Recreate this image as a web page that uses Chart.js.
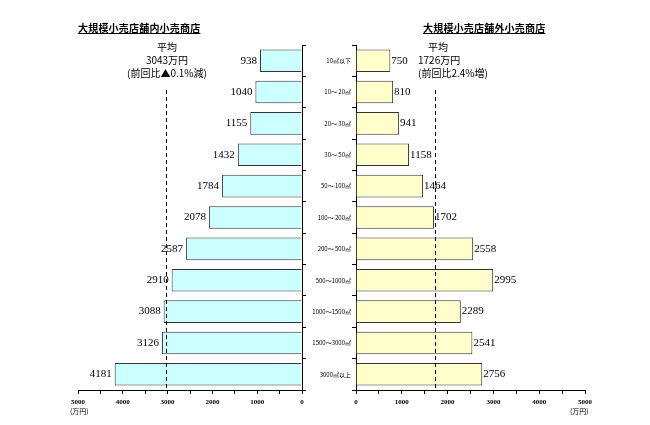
<!DOCTYPE html>
<html>
<head>
<meta charset="utf-8">
<script src="https://cdn.jsdelivr.net/npm/chart.js@4"></script>
<style>
body{margin:0;background:#fff;}
#wrap{position:relative;width:650px;height:425px;overflow:hidden;}
canvas{position:absolute;left:0;top:0;}
.t{position:absolute;font-family:"Noto Sans CJK JP",sans-serif;color:#000;white-space:nowrap;}
.ttl{font-size:10px;font-weight:bold;text-decoration:underline;letter-spacing:0.2px;}
.ann{font-size:10px;line-height:13px;text-align:center;}
.unit{font-size:7px;}
</style>
</head>
<body>
<div id="wrap">
  <canvas id="izq" width="650" height="425"></canvas>
  <canvas id="der" width="650" height="425"></canvas>
  <div class="t ttl" style="left:78px;top:20px;">大規模小売店舗内小売商店</div>
  <div class="t ttl" style="left:423px;top:20px;">大規模小売店舗外小売商店</div>
  <div class="t ann" style="left:102px;top:40px;width:130px;">平均<br>3043万円<br>(前回比▲0.1%減)</div>
  <div class="t ann" style="left:418px;top:40px;width:72px;text-align:left;"><span style="padding-left:10px">平均</span><br>1726万円<br>(前回比2.4%増)</div>
  <div class="t unit" style="left:70px;top:406px;">(万円)</div>
  <div class="t unit" style="left:570px;top:406px;">(万円)</div>
</div>
<script>
const categorias = ["10㎡以下", "10～ 20㎡", "20～ 30㎡", "30～ 50㎡", "50～ 100㎡", "100～ 200㎡",
  "200～ 500㎡", "500～1000㎡", "1000～1500㎡", "1500～3000㎡", "3000㎡以上"];
const dentro = [938, 1040, 1155, 1432, 1784, 2078, 2587, 2910, 3088, 3126, 4181];
const fuera = [750, 810, 941, 1158, 1464, 1702, 2558, 2995, 2289, 2541, 2756];
const promedioDentro = 3043;
const promedioFuera = 1726;
const ejeMax = 5000;

const fuenteNum = "11px 'Liberation Serif', serif";

// etiquetas de valor y linea de promedio
function plugin(promedio, lado) {
  return {
    id: "extra" + lado,
    afterDatasetsDraw(chart) {
      const ctx = chart.ctx;
      const x = chart.scales.x;
      const area = chart.chartArea;
      const meta = chart.getDatasetMeta(0);
      ctx.save();
      ctx.font = fuenteNum;
      ctx.fillStyle = "#000";
      ctx.textBaseline = "middle";
      meta.data.forEach((bar, i) => {
        const v = chart.data.datasets[0].data[i];
        if (lado === "izq") {
          ctx.textAlign = "right";
          ctx.fillText(v, bar.x - 3, bar.y);
        } else {
          ctx.textAlign = "left";
          ctx.fillText(v, bar.x + 1, bar.y);
        }
      });
      const px = Math.round(x.getPixelForValue(promedio)) + 0.5;
      ctx.strokeStyle = "#000";
      ctx.lineWidth = 1;
      ctx.setLineDash([4, 3]);
      ctx.beginPath();
      ctx.moveTo(px, 90);
      ctx.lineTo(px, area.bottom);
      ctx.stroke();
      ctx.restore();
    }
  };
}

function opciones(lado) {
  const izq = lado === "izq";
  return {
    indexAxis: "y",
    responsive: false,
    animation: false,
    layout: { padding: izq ? { left: 78, right: 348, top: 45, bottom: 0 } : { left: 306, right: 65, top: 45, bottom: 0 } },
    plugins: { legend: { display: false }, tooltip: { enabled: false } },
    scales: {
      x: {
        reverse: izq,
        min: 0,
        max: ejeMax,
        afterFit(s) { s.height = 35; },
        ticks: {
          stepSize: 500,
          autoSkip: false,
          maxRotation: 0,
          color: "#000",
          font: { size: 7, family: "'Liberation Serif', serif", weight: "bold" },
          padding: 4,
          callback: v => (v % 1000 === 0 ? v : "")
        },
        grid: { drawOnChartArea: false, drawTicks: true, tickLength: 4, color: "#000" },
        border: { display: true, color: "#000" }
      },
      y: {
        position: izq ? "right" : "left",
        afterFit(s) { s.width = izq ? 0 : 50; },
        ticks: {
          display: !izq,
          color: "#000",
          font: { size: 6, family: "'Noto Sans CJK JP', sans-serif" },
          padding: 1
        },
        grid: { drawOnChartArea: false, drawTicks: true, tickLength: 4, color: "#000" },
        border: { display: true, color: "#000" }
      }
    }
  };
}

new Chart(document.getElementById("izq"), {
  type: "bar",
  data: {
    labels: categorias,
    datasets: [{ data: dentro, backgroundColor: "#ccffff", borderColor: "#333", borderWidth: 1, barPercentage: 0.72, categoryPercentage: 1 }]
  },
  options: opciones("izq"),
  plugins: [plugin(promedioDentro, "izq")]
});

new Chart(document.getElementById("der"), {
  type: "bar",
  data: {
    labels: categorias,
    datasets: [{ data: fuera, backgroundColor: "#ffffcc", borderColor: "#333", borderWidth: 1, barPercentage: 0.72, categoryPercentage: 1 }]
  },
  options: opciones("der"),
  plugins: [plugin(promedioFuera, "der")]
});
</script>
</body>
</html>
